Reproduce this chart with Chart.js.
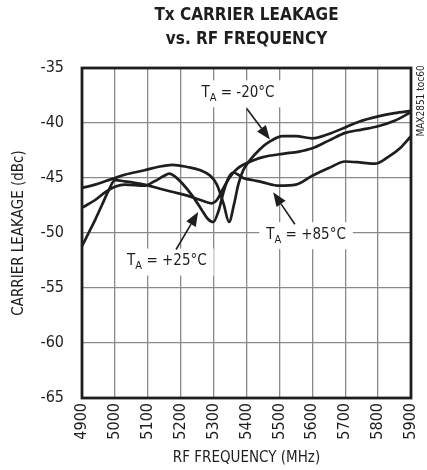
<!DOCTYPE html>
<html lang="en">
<head>
<meta charset="UTF-8" />
<title>Tx Carrier Leakage vs. RF Frequency</title>
<style>
  html, body { margin: 0; padding: 0; background: #fff; }
  #wrap { width: 427px; height: 470px; }
</style>
<script src="https://cdn.jsdelivr.net/npm/chart.js"></script>
</head>
<body>
<div id="wrap"><canvas id="leakChart" width="427" height="470"></canvas></div>
<script>
  // axis ticks
  const xTicks = [4900, 5000, 5100, 5200, 5300, 5400, 5500, 5600, 5700, 5800, 5900];
  const yTicks = [-65, -60, -55, -50, -45, -40, -35];

  // TA = -20°C
  const freqM20 = [4900, 4940, 4970, 5000, 5030, 5090, 5130, 5175, 5220, 5260, 5290, 5310, 5330, 5347, 5362, 5375, 5390, 5410, 5440, 5470, 5510, 5550, 5600, 5650, 5700, 5740, 5800, 5850, 5900];
  const leakM20 = [-45.9, -45.6, -45.3, -45.0, -44.7, -44.3, -44.0, -43.8, -44.0, -44.3, -44.8, -45.6, -47.3, -49.0, -47.4, -45.6, -44.3, -43.4, -42.4, -41.7, -41.2, -41.2, -41.4, -41.0, -40.4, -39.9, -39.4, -39.1, -38.9];

  // TA = +25°C
  const freqP25 = [4900, 4920, 4940, 4960, 4980, 5000, 5030, 5090, 5140, 5180, 5220, 5260, 5294, 5310, 5330, 5350, 5370, 5390, 5420, 5450, 5510, 5560, 5600, 5650, 5700, 5750, 5800, 5850, 5900];
  const leakP25 = [-51.2, -50.0, -48.8, -47.5, -46.2, -45.2, -45.3, -45.6, -46.0, -46.3, -46.6, -47.0, -47.3, -47.0, -45.9, -44.9, -44.2, -43.8, -43.4, -43.1, -42.8, -42.6, -42.3, -41.6, -40.9, -40.6, -40.3, -39.8, -39.0];

  // TA = +85°C
  const freqP85 = [4900, 4940, 4970, 5000, 5030, 5090, 5120, 5150, 5165, 5180, 5205, 5235, 5264, 5282, 5299, 5315, 5330, 5345, 5360, 5375, 5390, 5420, 5450, 5500, 5550, 5600, 5650, 5700, 5750, 5790, 5830, 5870, 5900];
  const leakP85 = [-47.7, -47.0, -46.3, -45.8, -45.6, -45.7, -45.3, -44.8, -44.6, -44.8, -45.5, -46.6, -47.9, -48.7, -49.0, -48.0, -46.3, -45.0, -44.5, -44.7, -45.0, -45.2, -45.4, -45.7, -45.6, -44.8, -44.1, -43.5, -43.6, -43.7, -43.1, -42.2, -41.2];

  const NARROW = "'DejaVu Sans Condensed', 'Liberation Sans Narrow', Arial, sans-serif";
  const INK = "#1e1e1e";
  const GRID = "#8a8a8a";

  function pts(fs, vs) {
    return fs.map((f, i) => ({ x: f, y: vs[i] }));
  }

  function curve(label, fs, vs) {
    return {
      label: label,
      data: pts(fs, vs),
      borderColor: INK,
      borderWidth: 2.7,
      pointRadius: 0,
      fill: false,
      cubicInterpolationMode: "monotone",
    };
  }

  // callouts: label centre and arrow, in data units
  const callouts = [
    { sub: "A", rest: " = -20°C", at: [5374, -37.3], from: [5401, -38.7], to: [5471, -41.5] },
    { sub: "A", rest: " = +85°C", at: [5581, -50.2], from: [5547, -49.2], to: [5481, -46.3] },
    { sub: "A", rest: " = +25°C", at: [5158, -52.6], from: [5186, -51.5], to: [5253, -48.1] },
  ];

  function calloutWidth(ctx, c) {
    ctx.font = "15px " + NARROW;
    let w = ctx.measureText("T").width + ctx.measureText(c.rest).width;
    ctx.font = "11px " + NARROW;
    return w + ctx.measureText(c.sub).width;
  }

  const decorations = {
    id: "decorations",
    beforeDatasetsDraw(chart) {
      const { ctx, scales: { x, y } } = chart;
      ctx.save();
      ctx.fillStyle = "#fff";
      callouts.forEach((c) => {
        const w = calloutWidth(ctx, c) + 14;
        const cx = x.getPixelForValue(c.at[0]);
        const cy = y.getPixelForValue(c.at[1]);
        ctx.fillRect(cx - w / 2, cy - 13, w, 27);
      });
      ctx.restore();
    },
    afterDatasetsDraw(chart) {
      const { ctx, chartArea: a, scales: { x, y } } = chart;
      ctx.save();

      // callout text + arrows
      ctx.fillStyle = INK;
      ctx.strokeStyle = INK;
      ctx.textBaseline = "middle";
      ctx.textAlign = "left";
      callouts.forEach((c) => {
        const w = calloutWidth(ctx, c);
        const cx = x.getPixelForValue(c.at[0]);
        const cy = y.getPixelForValue(c.at[1]);
        let px = cx - w / 2;
        ctx.font = "15px " + NARROW;
        ctx.fillText("T", px, cy);
        px += ctx.measureText("T").width;
        ctx.font = "11px " + NARROW;
        ctx.fillText(c.sub, px, cy + 5);
        px += ctx.measureText(c.sub).width;
        ctx.font = "15px " + NARROW;
        ctx.fillText(c.rest, px, cy);

        const x0 = x.getPixelForValue(c.from[0]), y0 = y.getPixelForValue(c.from[1]);
        const x1 = x.getPixelForValue(c.to[0]), y1 = y.getPixelForValue(c.to[1]);
        const ang = Math.atan2(y1 - y0, x1 - x0);
        const hl = 14, hw = 5.5;
        ctx.lineWidth = 1.6;
        ctx.beginPath();
        ctx.moveTo(x0, y0);
        ctx.lineTo(x1 - hl * Math.cos(ang), y1 - hl * Math.sin(ang));
        ctx.stroke();
        ctx.beginPath();
        ctx.moveTo(x1, y1);
        ctx.lineTo(x1 - hl * Math.cos(ang) - hw * Math.sin(ang), y1 - hl * Math.sin(ang) + hw * Math.cos(ang));
        ctx.lineTo(x1 - hl * Math.cos(ang) + hw * Math.sin(ang), y1 - hl * Math.sin(ang) - hw * Math.cos(ang));
        ctx.closePath();
        ctx.fill();
      });

      // plot frame
      ctx.lineWidth = 2.8;
      ctx.strokeRect(a.left, a.top, a.right - a.left, a.bottom - a.top);

      // heading
      const mid = (a.left + a.right) / 2;
      ctx.textAlign = "center";
      ctx.font = "bold 17px " + NARROW;
      ctx.fillText("Tx CARRIER LEAKAGE", mid, 16);
      ctx.fillText("vs. RF FREQUENCY", mid, 40);

      // side code
      ctx.translate(a.right + 10, a.top + 33);
      ctx.rotate(-Math.PI / 2);
      ctx.font = "10px " + NARROW;
      ctx.fillText("MAX2851 toc60", 0, 0);
      ctx.restore();
    },
  };

  new Chart(document.getElementById("leakChart"), {
    type: "line",
    data: {
      datasets: [
        curve("TA = -20°C", freqM20, leakM20),
        curve("TA = +25°C", freqP25, leakP25),
        curve("TA = +85°C", freqP85, leakP85),
      ],
    },
    options: {
      responsive: false,
      animation: false,
      layout: { padding: { top: 68, right: 16, left: 0, bottom: 0 } },
      plugins: {
        legend: { display: false },
        tooltip: { enabled: false },
      },
      scales: {
        x: {
          type: "linear",
          min: 4900,
          max: 5900,
          afterFit: (s) => {
            s.height = 72;
            s.paddingLeft = 0;
            s.paddingRight = 0;
          },
          afterBuildTicks: (s) => { s.ticks = xTicks.map((v) => ({ value: v })); },
          ticks: {
            minRotation: 90,
            maxRotation: 90,
            padding: 5,
            color: INK,
            font: { family: NARROW, size: 16 },
            callback: (v) => String(v),
          },
          grid: { color: GRID, lineWidth: 1.3, drawTicks: false },
          border: { display: false },
          title: {
            display: true,
            text: "RF FREQUENCY (MHz)",
            color: INK,
            font: { family: NARROW, size: 15 },
            padding: { top: 0, bottom: 3 },
          },
        },
        y: {
          min: -65,
          max: -35,
          afterFit: (s) => { s.width = 82; },
          afterBuildTicks: (s) => { s.ticks = yTicks.map((v) => ({ value: v })); },
          ticks: {
            padding: 18,
            color: INK,
            font: { family: NARROW, size: 16 },
          },
          grid: { color: GRID, lineWidth: 1.3, drawTicks: false },
          border: { display: false },
          title: {
            display: true,
            text: "CARRIER LEAKAGE (dBc)",
            color: INK,
            font: { family: NARROW, size: 15 },
            padding: { top: 10, bottom: 0 },
          },
        },
      },
    },
    plugins: [decorations],
  });
</script>
</body>
</html>
